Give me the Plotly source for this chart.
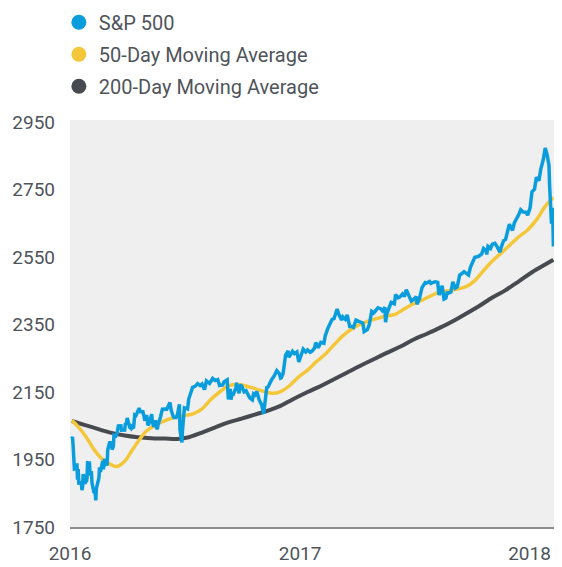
import plotly.graph_objects as go

# ---------------- data ----------------
sp_dates = [
    "2016-01-04","2016-01-05","2016-01-06","2016-01-07","2016-01-08","2016-01-11","2016-01-12","2016-01-13","2016-01-14","2016-01-15",
    "2016-01-19","2016-01-20","2016-01-21","2016-01-22","2016-01-25","2016-01-26","2016-01-27","2016-01-28","2016-01-29","2016-02-01",
    "2016-02-02","2016-02-03","2016-02-04","2016-02-05","2016-02-08","2016-02-09","2016-02-10","2016-02-11","2016-02-12","2016-02-16",
    "2016-02-17","2016-02-18","2016-02-19","2016-02-22","2016-02-23","2016-02-24","2016-02-25","2016-02-26","2016-02-29","2016-03-01",
    "2016-03-03","2016-03-04","2016-03-07","2016-03-08","2016-03-10","2016-03-11","2016-03-14","2016-03-16","2016-03-17","2016-03-18",
    "2016-03-22","2016-03-23","2016-03-28","2016-03-29","2016-03-31","2016-04-01","2016-04-05","2016-04-07","2016-04-08","2016-04-11",
    "2016-04-12","2016-04-13","2016-04-15","2016-04-18","2016-04-20","2016-04-22","2016-04-26","2016-04-28","2016-04-29","2016-05-02",
    "2016-05-04","2016-05-06","2016-05-10","2016-05-11","2016-05-13","2016-05-16","2016-05-17","2016-05-19","2016-05-20","2016-05-24",
    "2016-05-26","2016-05-27","2016-06-01","2016-06-03","2016-06-08","2016-06-10","2016-06-13","2016-06-15","2016-06-16","2016-06-17",
    "2016-06-20","2016-06-23","2016-06-24","2016-06-27","2016-06-28","2016-06-29","2016-06-30","2016-07-01","2016-07-06","2016-07-08",
    "2016-07-12","2016-07-14","2016-07-18","2016-07-20","2016-07-22","2016-07-26","2016-07-29","2016-08-02","2016-08-05","2016-08-10",
    "2016-08-15","2016-08-19","2016-08-23","2016-08-26","2016-08-31","2016-09-02","2016-09-07","2016-09-09","2016-09-12","2016-09-13",
    "2016-09-15","2016-09-16","2016-09-21","2016-09-22","2016-09-23","2016-09-26","2016-09-28","2016-09-30","2016-10-04","2016-10-07",
    "2016-10-11","2016-10-13","2016-10-17","2016-10-19","2016-10-21","2016-10-24","2016-10-26","2016-10-28","2016-11-01","2016-11-03",
    "2016-11-04","2016-11-07","2016-11-09","2016-11-11","2016-11-15","2016-11-17","2016-11-21","2016-11-25","2016-11-29","2016-12-01",
    "2016-12-02","2016-12-05","2016-12-07","2016-12-09","2016-12-13","2016-12-14","2016-12-16","2016-12-20","2016-12-23","2016-12-27",
    "2016-12-30","2017-01-03","2017-01-06","2017-01-10","2017-01-13","2017-01-17","2017-01-20","2017-01-24","2017-01-26","2017-01-30",
    "2017-02-03","2017-02-08","2017-02-10","2017-02-14","2017-02-17","2017-02-21","2017-02-24","2017-03-01","2017-03-03","2017-03-08",
    "2017-03-10","2017-03-14","2017-03-17","2017-03-21","2017-03-24","2017-03-27","2017-03-31","2017-04-04","2017-04-07","2017-04-11",
    "2017-04-13","2017-04-18","2017-04-21","2017-04-25","2017-04-28","2017-05-02","2017-05-05","2017-05-09","2017-05-12","2017-05-16",
    "2017-05-17","2017-05-19","2017-05-24","2017-05-26","2017-05-31","2017-06-02","2017-06-06","2017-06-09","2017-06-13","2017-06-16",
    "2017-06-19","2017-06-23","2017-06-27","2017-06-30","2017-07-05","2017-07-06","2017-07-10","2017-07-14","2017-07-19","2017-07-21",
    "2017-07-26","2017-07-28","2017-08-01","2017-08-04","2017-08-08","2017-08-10","2017-08-11","2017-08-15","2017-08-17","2017-08-18",
    "2017-08-21","2017-08-23","2017-08-25","2017-08-29","2017-09-01","2017-09-05","2017-09-08","2017-09-12","2017-09-15","2017-09-19",
    "2017-09-22","2017-09-26","2017-09-29","2017-10-03","2017-10-06","2017-10-10","2017-10-13","2017-10-17","2017-10-20","2017-10-24",
    "2017-10-25","2017-10-27","2017-10-31","2017-11-03","2017-11-07","2017-11-10","2017-11-15","2017-11-17","2017-11-21","2017-11-24",
    "2017-11-28","2017-11-30","2017-12-01","2017-12-05","2017-12-08","2017-12-12","2017-12-15","2017-12-18","2017-12-22","2017-12-27",
    "2017-12-29","2018-01-02","2018-01-05","2018-01-09","2018-01-12","2018-01-16","2018-01-19","2018-01-23","2018-01-26","2018-01-29",
    "2018-01-31","2018-02-01","2018-02-02","2018-02-05","2018-02-06","2018-02-07","2018-02-08",
]
sp_values = [
    2012.66,2016.71,1990.26,1943.09,1922.03,1923.67,1938.68,1890.28,1921.84,1880.33,
    1881.33,1859.33,1868.99,1906.90,1877.08,1903.63,1882.95,1893.36,1940.24,1939.38,
    1903.03,1912.53,1915.45,1880.05,1853.44,1852.21,1851.86,1829.08,1864.78,1895.58,
    1926.82,1917.83,1917.78,1945.50,1921.27,1929.80,1951.70,1948.05,1932.23,1978.35,
    1993.40,1999.99,2001.76,1979.26,1989.57,2022.19,2019.64,2027.22,2040.59,2049.58,
    2049.80,2036.71,2037.05,2055.01,2059.74,2072.78,2045.17,2041.91,2047.60,2041.99,
    2061.72,2082.42,2080.73,2094.34,2102.40,2091.58,2091.70,2075.81,2065.30,2081.43,
    2051.12,2057.14,2084.39,2064.46,2046.61,2066.66,2047.21,2040.04,2052.32,2076.06,
    2090.10,2099.06,2099.33,2099.13,2119.12,2096.07,2079.06,2071.50,2077.99,2071.22,
    2083.25,2113.32,2037.41,2000.54,2036.09,2070.77,2098.86,2102.95,2099.73,2129.90,
    2152.14,2163.75,2166.89,2173.02,2175.03,2169.18,2173.60,2157.03,2182.87,2175.49,
    2190.15,2183.87,2186.90,2169.04,2170.95,2179.98,2186.16,2127.81,2159.04,2127.02,
    2147.26,2139.16,2163.12,2177.18,2164.69,2146.10,2171.37,2168.27,2150.49,2153.74,
    2136.73,2132.55,2126.50,2144.29,2141.16,2151.33,2139.43,2126.41,2111.72,2088.66,
    2085.18,2131.52,2163.26,2164.45,2180.39,2187.12,2198.18,2213.35,2204.66,2191.08,
    2191.95,2204.71,2241.35,2259.53,2271.72,2253.28,2258.07,2270.76,2263.79,2268.88,
    2238.83,2257.83,2276.98,2268.90,2274.64,2267.89,2271.31,2280.07,2296.68,2280.90,
    2297.42,2294.67,2316.10,2337.58,2351.16,2365.38,2367.34,2395.96,2383.12,2362.98,
    2372.60,2365.45,2378.25,2344.02,2343.98,2341.59,2362.72,2360.16,2355.54,2353.78,
    2328.95,2335.05,2348.69,2388.61,2384.20,2391.17,2399.29,2396.92,2390.90,2400.67,
    2357.03,2381.73,2404.39,2415.82,2411.80,2439.07,2429.33,2431.77,2440.35,2433.15,
    2453.46,2438.30,2419.38,2423.41,2432.54,2409.75,2427.43,2459.27,2473.83,2472.54,
    2477.57,2472.10,2476.35,2476.83,2474.92,2438.21,2441.32,2464.61,2430.01,2425.55,
    2428.37,2444.04,2443.05,2446.30,2476.55,2457.85,2461.43,2496.48,2500.23,2506.65,
    2502.22,2496.84,2519.36,2534.58,2549.33,2550.64,2553.17,2559.36,2575.21,2569.13,
    2557.15,2581.07,2575.26,2587.84,2590.64,2582.30,2564.62,2578.85,2599.03,2602.42,
    2627.04,2647.58,2642.22,2629.27,2651.50,2664.11,2675.81,2690.16,2683.34,2682.62,
    2673.61,2695.81,2743.15,2751.29,2786.24,2776.42,2810.30,2839.13,2872.87,2853.53,
    2823.81,2821.98,2762.13,2648.94,2695.14,2681.66,2581.00,
]

ma50_dates = [
    "2016-01-04","2016-01-15","2016-01-29","2016-02-08","2016-02-22","2016-03-04","2016-03-15","2016-03-28",
    "2016-04-08","2016-04-19","2016-05-02","2016-05-16","2016-05-31","2016-06-14","2016-06-30","2016-07-15",
    "2016-07-29","2016-08-12","2016-08-26","2016-09-09","2016-09-23","2016-10-07","2016-10-21","2016-11-04",
    "2016-11-18","2016-12-02","2016-12-16","2016-12-30","2017-01-13","2017-01-27","2017-02-10","2017-02-24",
    "2017-03-09","2017-03-23","2017-04-06","2017-04-20","2017-05-04","2017-05-18","2017-06-01","2017-06-15",
    "2017-06-29","2017-07-14","2017-07-28","2017-08-11","2017-08-25","2017-09-08","2017-09-22","2017-10-06",
    "2017-10-20","2017-11-03","2017-11-17","2017-12-01","2017-12-15","2017-12-29","2018-01-12","2018-01-26",
    "2018-02-08",
]
ma50_values = [
    2066, 2045, 2010, 1980, 1950, 1937, 1929, 1945,
    1975, 2005, 2035, 2052, 2065, 2074, 2080, 2085,
    2100, 2128, 2150, 2168, 2172, 2168, 2160, 2152,
    2146, 2152, 2170, 2195, 2215, 2240, 2262, 2290,
    2315, 2335, 2350, 2360, 2368, 2375, 2380, 2395,
    2410, 2422, 2435, 2446, 2450, 2455, 2462, 2480,
    2510, 2538, 2562, 2586, 2610, 2630, 2660, 2700,
    2726,
]

ma200_dates = [
    "2016-01-04","2016-01-25","2016-02-15","2016-03-07","2016-03-28","2016-04-18","2016-05-09","2016-05-31",
    "2016-06-20","2016-07-08","2016-07-29","2016-08-19","2016-09-09","2016-09-30","2016-10-21","2016-11-11",
    "2016-11-30","2016-12-20","2017-01-13","2017-02-03","2017-02-24","2017-03-17","2017-04-07","2017-04-28",
    "2017-05-19","2017-06-09","2017-06-30","2017-07-21","2017-08-11","2017-09-01","2017-09-22","2017-10-13",
    "2017-11-03","2017-11-24","2017-12-15","2018-01-05","2018-01-26","2018-02-08",
]
ma200_values = [
    2064, 2052, 2040, 2029, 2021, 2016, 2013, 2012,
    2011, 2016, 2030, 2045, 2060, 2071, 2083, 2095,
    2108, 2128, 2150, 2168, 2188, 2208, 2228, 2247,
    2266, 2284, 2305, 2322, 2340, 2360, 2382, 2405,
    2430, 2452, 2478, 2505, 2528, 2542,
]

series_names = ["S&P 500", "50-Day Moving Average", "200-Day Moving Average"]
y_ticks = [1750, 1950, 2150, 2350, 2550, 2750, 2950]
x_ticks = ["2016-01-01", "2017-01-01", "2018-01-01"]
x_tick_labels = ["2016", "2017", "2018"]

# ---------------- styles ----------------
BLUE = "#0A9DDE"
YELLOW = "#F4C73A"
DARK = "#474B50"
TEXT = "#4F545A"
FONT = "Roboto, 'Liberation Sans', Arial, sans-serif"

fig = go.Figure()
fig.add_trace(go.Scatter(x=ma200_dates, y=ma200_values, mode="lines", line_shape="spline",
                         line=dict(color=DARK, width=4), showlegend=False, hoverinfo="skip"))
fig.add_trace(go.Scatter(x=ma50_dates, y=ma50_values, mode="lines", line_shape="spline",
                         line=dict(color=YELLOW, width=3.5), showlegend=False, hoverinfo="skip"))
fig.add_trace(go.Scatter(x=sp_dates, y=sp_values, mode="lines",
                         line=dict(color=BLUE, width=3.5), showlegend=False, hoverinfo="skip"))

# legend entries (circle markers)
for name, col in zip(series_names, [BLUE, YELLOW, DARK]):
    fig.add_trace(go.Scatter(x=[None], y=[None], mode="markers", name=name,
                             legendgroup=name,
                             marker=dict(color=col, size=15, symbol="circle")))

# the page body adds an 8px margin; the figure is sized to the visible body box
fig.update_layout(
    width=546, height=559,
    margin=dict(l=62, r=0, t=112, b=40, autoexpand=False),
    paper_bgcolor="white",
    plot_bgcolor="#EFEFEF",
    font=dict(family=FONT, size=19, color=TEXT),
    showlegend=True,
    legend=dict(x=-0.023, y=1.288, xanchor="left", yanchor="top",
                bgcolor="rgba(0,0,0,0)", tracegroupgap=3,
                font=dict(family=FONT, size=20, color=TEXT),
                itemsizing="trace"),
    xaxis=dict(type="date", range=["2016-01-01", "2018-02-09"],
               tickvals=x_ticks, ticktext=x_tick_labels,
               showgrid=False, zeroline=False,
               showline=True, linecolor="#8C8C8C", linewidth=2,
               ticks="", ticklabelstandoff=8,
               tickfont=dict(family=FONT, size=19, color=TEXT)),
    yaxis=dict(range=[1750, 2956], tickvals=y_ticks,
               showgrid=False, zeroline=False, showline=False,
               ticks="", ticklabelstandoff=14,
               tickfont=dict(family=FONT, size=19, color=TEXT)),
)

fig.write_html("out.html")
